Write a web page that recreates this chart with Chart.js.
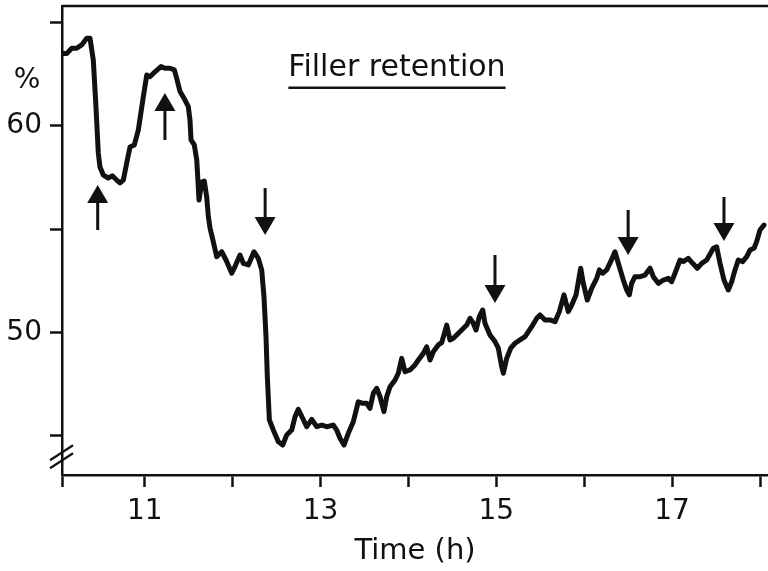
<!DOCTYPE html>
<html>
<head>
<meta charset="utf-8">
<title>Filler retention</title>
<script src="https://cdn.jsdelivr.net/npm/chart.js@4.4.1/dist/chart.umd.min.js"></script>
<style>
  html, body { margin: 0; padding: 0; background: #fff; }
</style>
</head>
<body>
<canvas id="chart" width="768" height="571"></canvas>
<script>
// Time of day (h) and filler retention (%)
const timeHours = [
  10.074, 10.113, 10.170, 10.226, 10.283, 10.340, 10.378, 10.415, 10.443, 10.472,
  10.491, 10.529, 10.586, 10.631, 10.681, 10.719, 10.757, 10.795, 10.833, 10.882,
  10.927, 10.984, 11.023, 11.060, 11.117, 11.185, 11.231, 11.288, 11.337, 11.364,
  11.402, 11.458, 11.496, 11.515, 11.527, 11.564, 11.592, 11.618, 11.648, 11.678,
  11.705, 11.724, 11.743, 11.780, 11.819, 11.876, 11.925, 11.990, 12.027, 12.084,
  12.122, 12.179, 12.243, 12.292, 12.331, 12.357, 12.380, 12.395, 12.418, 12.463,
  12.520, 12.570, 12.615, 12.672, 12.710, 12.747, 12.797, 12.843, 12.900, 12.957,
  13.014, 13.071, 13.146, 13.184, 13.222, 13.267, 13.316, 13.373, 13.430, 13.480,
  13.526, 13.563, 13.601, 13.639, 13.677, 13.722, 13.753, 13.791, 13.848, 13.885,
  13.924, 13.961, 14.018, 14.075, 14.113, 14.170, 14.208, 14.246, 14.283, 14.340,
  14.379, 14.436, 14.473, 14.511, 14.549, 14.606, 14.663, 14.701, 14.738, 14.769,
  14.807, 14.845, 14.871, 14.928, 14.985, 15.023, 15.061, 15.080, 15.118, 15.164,
  15.213, 15.270, 15.327, 15.403, 15.460, 15.497, 15.554, 15.611, 15.668, 15.717,
  15.770, 15.819, 15.858, 15.907, 15.960, 15.990, 16.035, 16.085, 16.142, 16.172,
  16.210, 16.256, 16.301, 16.350, 16.388, 16.445, 16.483, 16.513, 16.540, 16.578,
  16.635, 16.692, 16.749, 16.786, 16.843, 16.900, 16.957, 16.995, 17.033, 17.090,
  17.127, 17.184, 17.234, 17.287, 17.337, 17.394, 17.469, 17.507, 17.545, 17.590,
  17.639, 17.678, 17.716, 17.753, 17.803, 17.849, 17.886, 17.932, 17.962, 18.000,
  18.045
];

const retention = [
  63.50, 63.50, 63.75, 63.75, 63.91, 64.23, 64.23, 63.18, 61.10, 58.68,
  58.00, 57.61, 57.47, 57.57, 57.37, 57.23, 57.37, 58.19, 58.97, 59.07,
  59.79, 61.40, 62.45, 62.37, 62.61, 62.86, 62.78, 62.78, 62.70, 62.29,
  61.65, 61.24, 60.92, 60.28, 59.31, 59.07, 58.34, 56.40, 57.27, 57.32,
  56.56, 55.60, 55.05, 54.39, 53.66, 53.90, 53.50, 52.86, 53.18, 53.74,
  53.34, 53.26, 53.90, 53.58, 53.02, 51.72, 49.79, 47.85, 45.76, 45.27,
  44.70, 44.54, 45.03, 45.27, 45.91, 46.27, 45.84, 45.43, 45.79, 45.43,
  45.51, 45.43, 45.51, 45.27, 44.87, 44.54, 45.11, 45.67, 46.64, 46.56,
  46.56, 46.32, 47.05, 47.29, 46.88, 46.16, 46.88, 47.37, 47.69, 48.02,
  48.74, 48.09, 48.18, 48.42, 48.66, 48.98, 49.30, 48.66, 49.06, 49.39,
  49.50, 50.35, 49.63, 49.71, 49.87, 50.11, 50.35, 50.68, 50.44, 50.11,
  50.76, 51.08, 50.44, 49.87, 49.55, 49.23, 48.34, 48.02, 48.74, 49.23,
  49.47, 49.63, 49.79, 50.27, 50.68, 50.84, 50.60, 50.60, 50.51, 51.00,
  51.81, 51.00, 51.32, 51.81, 53.10, 52.37, 51.56, 52.13, 52.61, 53.02,
  52.86, 53.02, 53.42, 53.90, 53.34, 52.53, 52.05, 51.81, 52.37, 52.69,
  52.69, 52.77, 53.10, 52.69, 52.37, 52.53, 52.61, 52.45, 52.86, 53.50,
  53.42, 53.58, 53.34, 53.10, 53.34, 53.50, 54.07, 54.14, 53.34, 52.53,
  52.05, 52.45, 53.02, 53.50, 53.42, 53.66, 53.98, 54.07, 54.39, 54.95,
  55.19
];

// Arrows marking interventions: time, tail value and tip value (%)
const arrowTimes = [10.465, 11.23, 12.37, 14.985, 16.50, 17.59];
const arrowTails = [54.95, 59.31, 56.98, 53.74, 55.92, 56.55];
const arrowTips  = [57.13, 61.58, 54.71, 51.42, 53.74, 54.42];

// Axis ticks and the subset that carries a label
const xMin = 10.059;
const xMax = 18.091;
const yMin = 43.093;
const yMax = 65.794;
const xTickHours = [11, 12, 13, 14, 15, 16, 17, 18];
const xTickLabels = ['11', '13', '15', '17'];
const yTickValues = [45, 50, 55, 60, 65];
const yTickLabels = ['50', '60'];

const FONT = 'DejaVu Sans';
const INK = '#111';

const points = timeHours.map((t, i) => ({ x: t, y: retention[i] }));

// Frame top edge, axis break, arrows, heading and % unit
const decorations = {
  id: 'decorations',
  afterDraw(chart) {
    const { ctx, chartArea } = chart;
    const xs = chart.scales.x;
    const ys = chart.scales.y;
    ctx.save();
    ctx.strokeStyle = INK;
    ctx.fillStyle = INK;

    // top edge of the frame
    ctx.lineWidth = 2.5;
    ctx.beginPath();
    ctx.moveTo(chartArea.left, chartArea.top);
    ctx.lineTo(chartArea.right, chartArea.top);
    ctx.stroke();

    // axis break on the value axis
    const yb = ys.getPixelForValue(43.95);
    ctx.lineWidth = 2.2;
    [-4, 4].forEach(off => {
      ctx.beginPath();
      ctx.moveTo(chartArea.left - 12, yb + off + 7);
      ctx.lineTo(chartArea.left + 11, yb + off - 8);
      ctx.stroke();
    });

    // arrows
    arrowTimes.forEach((t, i) => {
      const x = xs.getPixelForValue(t);
      const yTail = ys.getPixelForValue(arrowTails[i]);
      const yTip = ys.getPixelForValue(arrowTips[i]);
      const dir = yTip < yTail ? -1 : 1;
      const headLen = 18;
      const headHalf = 10.5;
      ctx.lineWidth = 3;
      ctx.beginPath();
      ctx.moveTo(x, yTail);
      ctx.lineTo(x, yTip - dir * headLen);
      ctx.stroke();
      ctx.beginPath();
      ctx.moveTo(x, yTip);
      ctx.lineTo(x - headHalf, yTip - dir * headLen);
      ctx.lineTo(x + headHalf, yTip - dir * headLen);
      ctx.closePath();
      ctx.fill();
    });

    // heading with underline
    const hx = xs.getPixelForValue(13.87);
    const hy = ys.getPixelForValue(62.8);
    ctx.font = '30px "' + FONT + '"';
    ctx.textAlign = 'center';
    ctx.textBaseline = 'middle';
    ctx.fillText('Filler retention', hx, hy);
    const w = ctx.measureText('Filler retention').width;
    ctx.lineWidth = 2.5;
    ctx.beginPath();
    ctx.moveTo(hx - w / 2, hy + 20);
    ctx.lineTo(hx + w / 2, hy + 20);
    ctx.stroke();

    // unit label beside the value axis
    ctx.font = '28px "' + FONT + '"';
    ctx.fillText('%', chartArea.left - 35, ys.getPixelForValue(62.2));
    ctx.restore();
  }
};

new Chart(document.getElementById('chart'), {
  type: 'line',
  data: {
    datasets: [{
      label: 'Filler retention',
      data: points,
      borderColor: INK,
      borderWidth: 5,
      borderJoinStyle: 'round',
      borderCapStyle: 'round',
      pointRadius: 0,
      tension: 0,
      fill: false
    }]
  },
  options: {
    responsive: false,
    animation: false,
    devicePixelRatio: 1,
    layout: { padding: { top: 6, right: 0, bottom: 0, left: 0 } },
    plugins: {
      legend: { display: false },
      tooltip: { enabled: false }
    },
    scales: {
      x: {
        type: 'linear',
        min: xMin,
        max: xMax,
        afterBuildTicks: axis => {
          axis.ticks = [xMin, ...xTickHours].map(value => ({ value }));
        },
        afterFit: axis => {
          axis.height = 96;
          axis.paddingLeft = 0;
          axis.paddingRight = 0;
        },
        ticks: {
          autoSkip: false,
          maxRotation: 0,
          padding: 11,
          color: INK,
          font: { family: FONT, size: 28, lineHeight: 1 },
          callback: value => (xTickLabels.includes(String(value)) ? String(value) : '')
        },
        grid: {
          drawOnChartArea: false,
          drawTicks: true,
          tickLength: 12,
          tickWidth: 2.5,
          tickColor: INK
        },
        border: { display: true, color: INK, width: 2.5 },
        title: {
          display: true,
          text: 'Time (h)',
          color: INK,
          font: { family: FONT, size: 29, lineHeight: 1.2 },
          padding: { top: 0, bottom: 2 }
        }
      },
      y: {
        type: 'linear',
        min: yMin,
        max: yMax,
        afterBuildTicks: axis => {
          axis.ticks = yTickValues.map(value => ({ value }));
        },
        afterFit: axis => {
          axis.width = 62;
          axis.paddingTop = 0;
          axis.paddingBottom = 0;
        },
        ticks: {
          autoSkip: false,
          padding: 8,
          color: INK,
          font: { family: FONT, size: 28 },
          callback: value => (yTickLabels.includes(String(value)) ? String(value) : '')
        },
        grid: {
          drawOnChartArea: false,
          drawTicks: true,
          tickLength: 12,
          tickWidth: 2.5,
          tickColor: INK
        },
        border: { display: true, color: INK, width: 2.5 }
      }
    }
  },
  plugins: [decorations]
});
</script>
</body>
</html>
